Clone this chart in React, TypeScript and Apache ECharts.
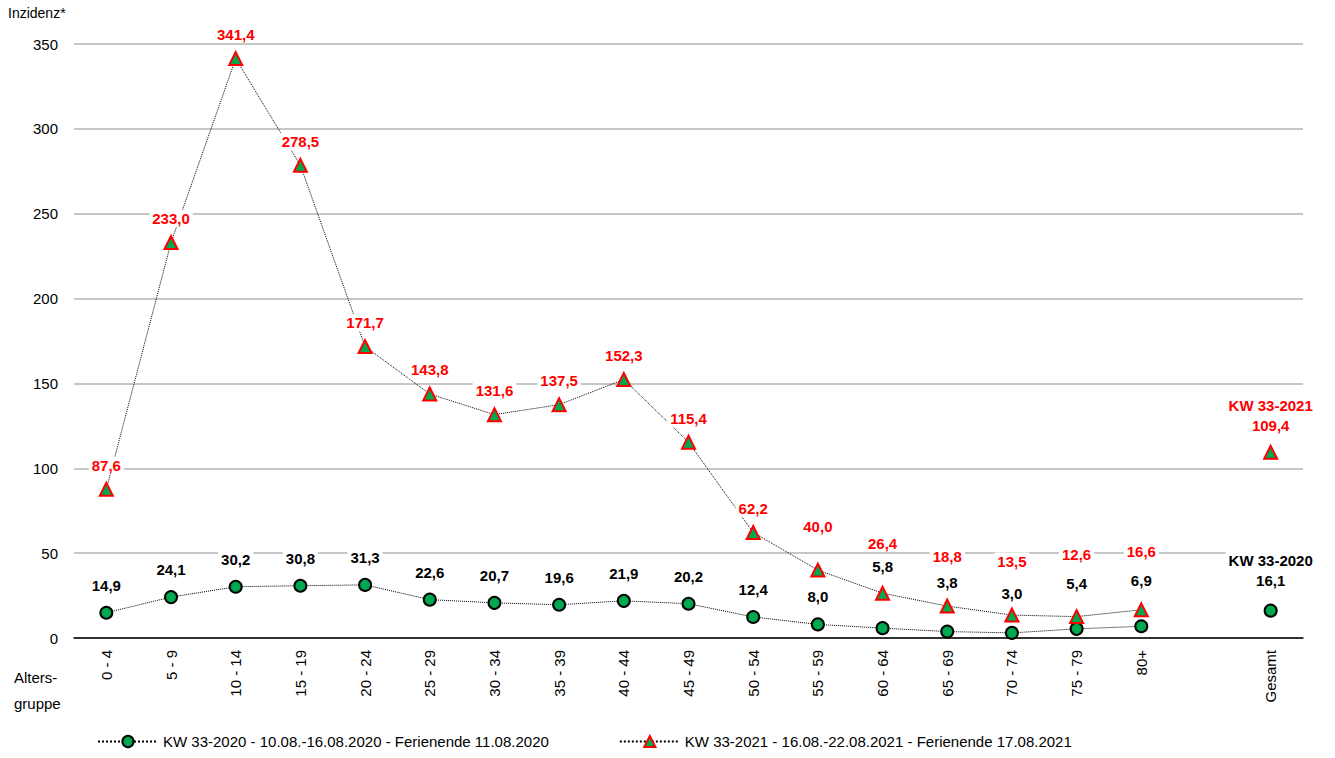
import { useEffect, useRef } from 'react';
import * as echarts from 'echarts';

// age groups (empty slot before the total)
const categories = ['0 - 4', '5 - 9', '10 - 14', '15 - 19', '20 - 24', '25 - 29', '30 - 34', '35 - 39', '40 - 44', '45 - 49', '50 - 54', '55 - 59', '60 - 64', '65 - 69', '70 - 74', '75 - 79', '80+', '', 'Gesamt'];
const kw2020 = [14.9, 24.1, 30.2, 30.8, 31.3, 22.6, 20.7, 19.6, 21.9, 20.2, 12.4, 8.0, 5.8, 3.8, 3.0, 5.4, 6.9, null, 16.1];
const kw2021 = [87.6, 233.0, 341.4, 278.5, 171.7, 143.8, 131.6, 137.5, 152.3, 115.4, 62.2, 40.0, 26.4, 18.8, 13.5, 12.6, 16.6, null, 109.4];
const name2020 = 'KW 33-2020 - 10.08.-16.08.2020 - Ferienende 11.08.2020';
const name2021 = 'KW 33-2021 - 16.08.-22.08.2021 - Ferienende 17.08.2021';

// label distances so the labels in the crowded right part don't collide
const dist2021 = [8, 8, 8, 8, 8, 8, 8, 8, 8, 8, 8, 28, 34, 34, 38, 46, 42, 8, 8];
const dist2020 = [12, 12, 12, 12, 12, 12, 12, 12, 12, 12, 12, 12, 46, 34, 24, 30, 30, 12, 12];

const fmt = (v: number) => v.toFixed(1).replace('.', ',');
const font = 'Liberation Sans';

export default function App() {
  const ref = useRef<HTMLDivElement>(null);

  useEffect(() => {
    document.body.style.margin = '0';
    if (!ref.current) return;
    const chart = echarts.init(ref.current, null, { renderer: 'svg' });
    const last = categories.length - 1;
    const toData = (arr: (number | null)[], dist: number[], tag: string) =>
      arr.map((v, i) =>
        v == null
          ? null
          : {
              value: v,
              label:
                i === last
                  ? { distance: dist[i], formatter: tag + '\n' + fmt(v), lineHeight: 20 }
                  : { distance: dist[i] },
            }
      );
    chart.setOption({
      animation: false,
      textStyle: { fontFamily: font },
      grid: { left: 74, right: 32, top: 44, bottom: 120 },
      xAxis: {
        type: 'category',
        data: categories,
        axisLine: { lineStyle: { color: '#000', width: 1.5 } },
        axisTick: { show: false },
        axisLabel: { rotate: 90, color: '#000', fontSize: 15, margin: 12, interval: 0 },
      },
      yAxis: {
        type: 'value',
        min: 0,
        max: 350,
        interval: 50,
        axisLabel: { color: '#000', fontSize: 15, margin: 16 },
        splitLine: { lineStyle: { color: '#b3b3b3', width: 1.5 } },
      },
      legend: {
        bottom: 4,
        left: 92,
        itemGap: 70,
        itemWidth: 60,
        itemHeight: 14,
        textStyle: { color: '#000', fontSize: 15 },
        data: [name2020, name2021],
      },
      graphic: [
        { type: 'text', left: 8, top: 6, style: { text: 'Inzidenz*', font: `14px ${font}`, fill: '#000' } },
        { type: 'text', left: 14, top: 664, style: { text: 'Alters-\ngruppe', font: `15px ${font}`, fill: '#000', lineHeight: 26 } },
      ],
      series: [
        {
          name: name2021,
          type: 'line',
          data: toData(kw2021, dist2021, 'KW 33-2021'),
          symbol: 'triangle',
          symbolSize: 13,
          itemStyle: { color: '#00a84f', borderColor: '#ff0000', borderWidth: 2 },
          lineStyle: { color: '#000', width: 1, type: 'dotted' },
          label: {
            show: true,
            position: 'top',
            color: '#ff0000',
            fontWeight: 'bold',
            fontSize: 15,
            backgroundColor: '#fff',
            padding: [1, 3],
            formatter: (p: any) => fmt(p.value),
          },
          z: 3,
        },
        {
          name: name2020,
          type: 'line',
          data: toData(kw2020, dist2020, 'KW 33-2020'),
          symbol: 'circle',
          symbolSize: 12,
          itemStyle: { color: '#00a84f', borderColor: '#000', borderWidth: 2 },
          lineStyle: { color: '#000', width: 1, type: 'dotted' },
          label: {
            show: true,
            position: 'top',
            color: '#000',
            fontWeight: 'bold',
            fontSize: 15,
            backgroundColor: '#fff',
            padding: [1, 3],
            formatter: (p: any) => fmt(p.value),
          },
          z: 2,
        },
      ],
    });
    return () => chart.dispose();
  }, []);

  return <div ref={ref} style={{ width: 1335, height: 758 }} />;
}
